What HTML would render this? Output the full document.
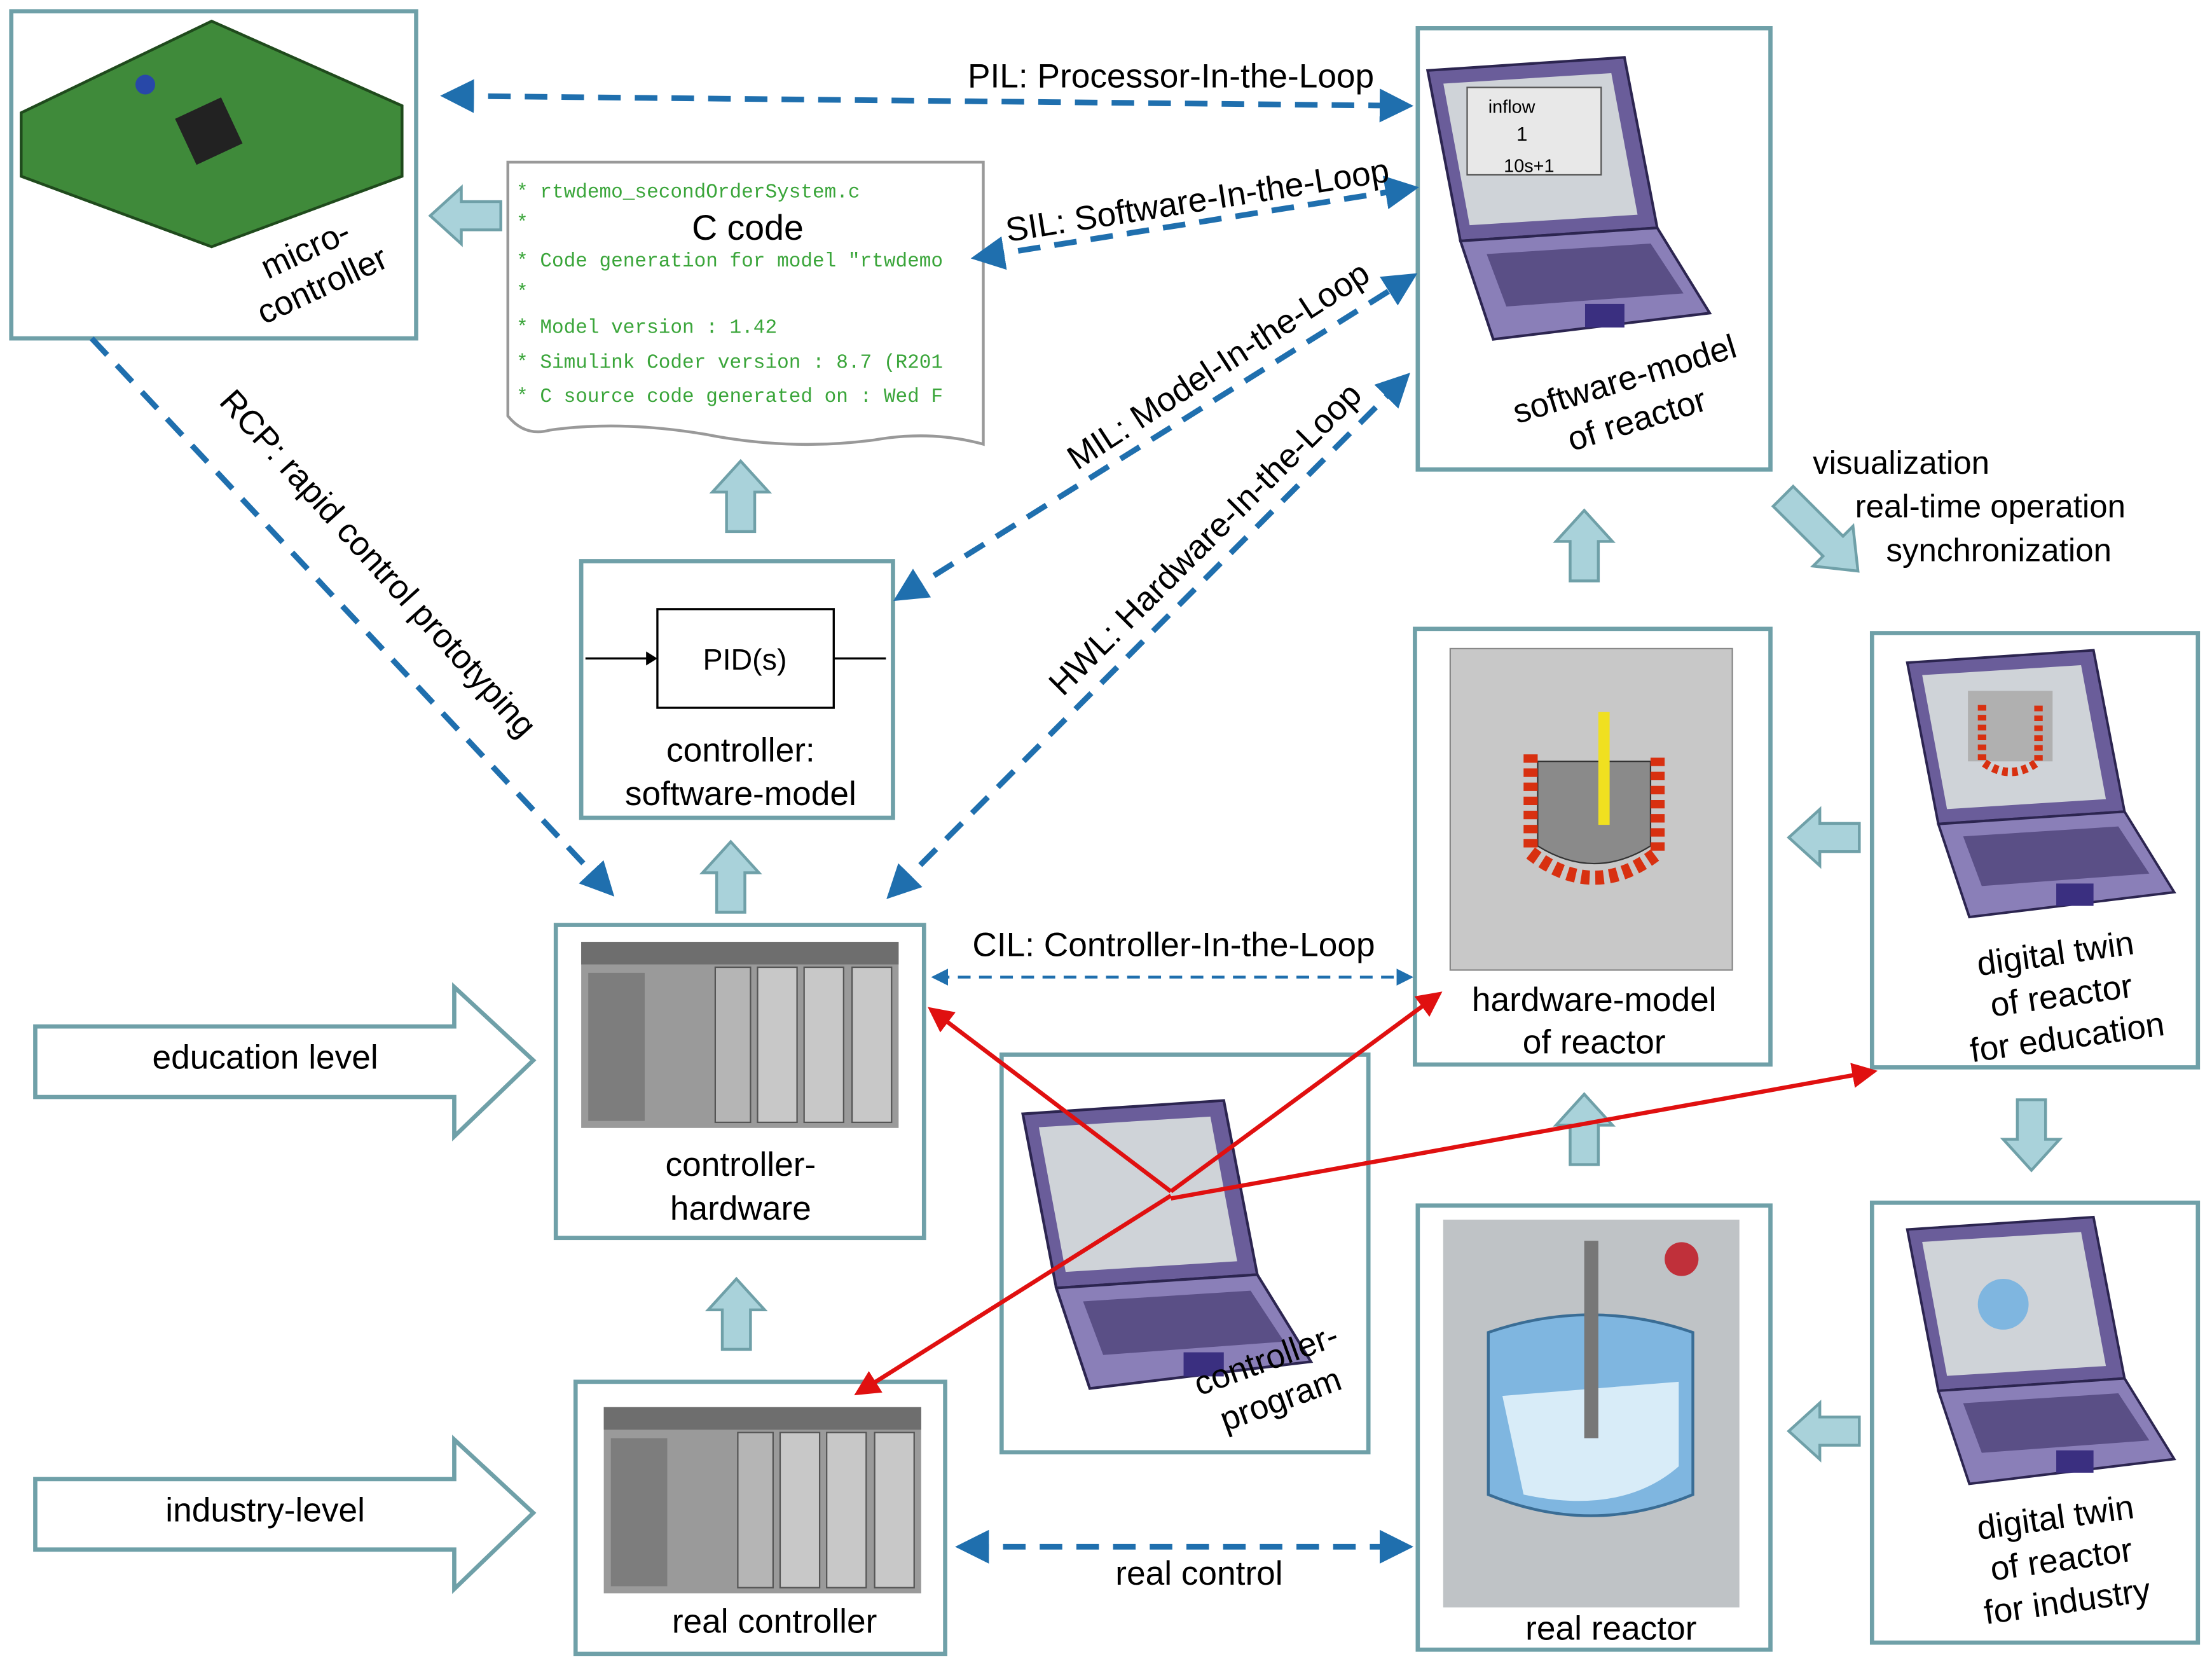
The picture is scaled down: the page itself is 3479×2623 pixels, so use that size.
<!DOCTYPE html>
<html><head><meta charset="utf-8"><style>html,body{margin:0;padding:0;background:#fff}svg{display:block}</style></head><body>
<svg width="3479" height="2623" viewBox="0 0 1568 1183" preserveAspectRatio="none" xmlns="http://www.w3.org/2000/svg" font-family="Liberation Sans, sans-serif">
<defs>
<marker id="bh" markerWidth="6" markerHeight="6" refX="4" refY="3" orient="auto-start-reverse" markerUnits="strokeWidth"><path d="M0,0 L6,3 L0,6 z" fill="#1f6fae"/></marker>
<marker id="rh" markerWidth="6" markerHeight="6" refX="5" refY="3" orient="auto" markerUnits="strokeWidth"><path d="M0,0 L6,3 L0,6 z" fill="#e01010"/></marker>
<g id="lap">
<path d="M0,0 L150,-10 L175,120 L25,130 z" fill="#6a5d9a" stroke="#2c2550" stroke-width="2"/>
<path d="M12,10 L140,2 L160,110 L32,118 z" fill="#cfd3d8"/>
<path d="M25,130 L175,120 L215,185 L50,205 z" fill="#8a7fb8" stroke="#2c2550" stroke-width="2"/>
<path d="M45,140 L170,132 L195,170 L60,180 z" fill="#5a4f86"/>
<rect x="120" y="178" width="30" height="18" fill="#3a2f80"/>
</g>
<g id="plc">
<rect x="0" y="0" width="225" height="132" fill="#9a9a9a"/>
<rect x="0" y="0" width="225" height="16" fill="#6e6e6e"/>
<rect x="5" y="22" width="40" height="105" fill="#7d7d7d"/>
<rect x="125" y="18" width="28" height="110" fill="#c8c8c8" stroke="#555"/>
<rect x="158" y="18" width="28" height="110" fill="#c8c8c8" stroke="#555"/>
<rect x="192" y="18" width="28" height="110" fill="#c8c8c8" stroke="#555"/>
<rect x="95" y="18" width="25" height="110" fill="#b5b5b5" stroke="#555"/>
</g>
</defs>
<g fill="none" stroke="#6fa0a8" stroke-width="3">
<rect x="8" y="8" width="287" height="232"/>
<rect x="1005" y="20" width="250" height="313"/>
<rect x="412" y="398" width="221" height="182"/>
<rect x="1003" y="446" width="252" height="309"/>
<rect x="1327" y="449" width="231" height="308"/>
<rect x="394" y="656" width="261" height="222"/>
<rect x="710" y="748" width="260" height="282"/>
<rect x="408" y="980" width="262" height="193"/>
<rect x="1005" y="855" width="250" height="315"/>
<rect x="1327" y="853" width="231" height="312"/>
</g>
<!-- C code -->
<path d="M360,115 L697,115 L697,315 Q660,305 620,312 Q560,320 500,308 Q440,298 390,305 Q372,310 360,295 z" fill="#fff" stroke="#999" stroke-width="2"/>
<g font-family="Liberation Mono, monospace" font-size="14" fill="#3aa53a">
<text x="366" y="140">* rtwdemo_secondOrderSystem.c</text>
<text x="366" y="162">*</text>
<text x="366" y="189">* Code generation for model "rtwdemo</text>
<text x="366" y="211">*</text>
<text x="366" y="236">* Model version            : 1.42</text>
<text x="366" y="261">* Simulink Coder version : 8.7 (R201</text>
<text x="366" y="285">* C source code generated on : Wed F</text>
</g>
<text x="530" y="170" font-size="25" text-anchor="middle">C code</text>
<!-- microcontroller image -->
<path d="M15,80 L150,15 L285,75 L285,125 L150,175 L15,125 z" fill="#3f8a3a" stroke="#1f4a1c" stroke-width="2"/>
<rect x="130" y="75" width="36" height="36" fill="#222" transform="rotate(-25 148 93)"/>
<circle cx="103" cy="60" r="7" fill="#2848a8"/>
<text transform="translate(225,195) rotate(-25)" font-size="24" text-anchor="middle"><tspan x="0" y="-12">micro-</tspan><tspan x="0" y="16">controller</tspan></text>
<!-- software-model laptop -->
<use href="#lap" transform="translate(1012,50) scale(0.93)"/>
<rect x="1040" y="62" width="95" height="62" fill="#e8e8e8" stroke="#555"/>
<text x="1055" y="80" font-size="13">inflow</text>
<text x="1075" y="100" font-size="14">1</text><text x="1066" y="122" font-size="13">10s+1</text>
<text transform="translate(1158,290) rotate(-17)" font-size="24" text-anchor="middle"><tspan x="0" y="-14">software-model</tspan><tspan x="0" y="16">of reactor</tspan></text>
<!-- PID -->
<line x1="415" y1="467" x2="462" y2="467" stroke="#000" stroke-width="1.5"/>
<path d="M458,462 L466,467 L458,472 z" fill="#000"/>
<rect x="466" y="432" width="125" height="70" fill="#fff" stroke="#000" stroke-width="1.5"/>
<line x1="591" y1="467" x2="628" y2="467" stroke="#000" stroke-width="1.5"/>
<text x="528" y="475" font-size="21" text-anchor="middle">PID(s)</text>
<text x="525" y="540" font-size="24" text-anchor="middle">controller:</text>
<text x="525" y="571" font-size="24" text-anchor="middle">software-model</text>
<!-- hardware-model image -->
<rect x="1028" y="460" width="200" height="228" fill="#c8c8c8" stroke="#888"/>
<path d="M1090,540 L1170,540 L1170,600 Q1130,625 1090,600 z" fill="#8a8a8a" stroke="#333"/>
<path d="M1085,535 L1085,605 Q1130,640 1175,605 L1175,535" fill="none" stroke="#d83010" stroke-width="10" stroke-dasharray="6 4"/>
<rect x="1133" y="505" width="8" height="80" fill="#f0e020"/>
<text x="1130" y="717" font-size="24" text-anchor="middle">hardware-model</text>
<text x="1130" y="747" font-size="24" text-anchor="middle">of reactor</text>
<!-- digital twin education -->
<use href="#lap" transform="translate(1352,470) scale(0.88)"/>
<rect x="1395" y="490" width="60" height="50" fill="#b0b0b0"/>
<path d="M1405,500 L1405,540 Q1425,555 1445,540 L1445,500" fill="none" stroke="#d83010" stroke-width="6" stroke-dasharray="4 3"/>
<text transform="translate(1462,712) rotate(-8)" font-size="24" text-anchor="middle"><tspan x="0" y="-28">digital twin</tspan><tspan x="0" y="2">of reactor</tspan><tspan x="0" y="32">for education</tspan></text>
<!-- controller hardware -->
<use href="#plc" transform="translate(412,668)"/>
<text x="525" y="834" font-size="24" text-anchor="middle">controller-</text>
<text x="525" y="865" font-size="24" text-anchor="middle">hardware</text>
<!-- controller program -->
<use href="#lap" transform="translate(725,790) scale(0.95)"/>
<text transform="translate(905,985) rotate(-20)" font-size="24" text-anchor="middle"><tspan x="0" y="-14">controller-</tspan><tspan x="0" y="16">program</tspan></text>
<!-- real controller -->
<use href="#plc" transform="translate(428,998)"/>
<text x="549" y="1158" font-size="24" text-anchor="middle">real controller</text>
<!-- real reactor -->
<rect x="1023" y="865" width="210" height="275" fill="#bfc3c6"/>
<path d="M1055,945 Q1128,920 1200,945 L1200,1060 Q1128,1090 1055,1060 z" fill="#7fb6e0" stroke="#3a6d95" stroke-width="2"/>
<path d="M1065,990 L1190,980 L1190,1040 Q1150,1075 1080,1060 z" fill="#d8ecf8"/>
<rect x="1123" y="880" width="10" height="140" fill="#777"/>
<circle cx="1192" cy="893" r="12" fill="#c0303a"/>
<text x="1142" y="1163" font-size="24" text-anchor="middle">real reactor</text>
<!-- digital twin industry -->
<use href="#lap" transform="translate(1352,872) scale(0.88)"/>
<circle cx="1420" cy="925" r="18" fill="#7fb6e0"/>
<text transform="translate(1462,1112) rotate(-8)" font-size="24" text-anchor="middle"><tspan x="0" y="-28">digital twin</tspan><tspan x="0" y="2">of reactor</tspan><tspan x="0" y="32">for industry</tspan></text>
<!-- level arrows -->
<g fill="#fff" stroke="#6fa0a8" stroke-width="3">
<path d="M25,728 L322,728 L322,700 L378,752 L322,806 L322,778 L25,778 z"/>
<path d="M25,1049 L322,1049 L322,1021 L378,1073 L322,1127 L322,1099 L25,1099 z"/>
</g>
<text x="188" y="758" font-size="24" text-anchor="middle">education level</text>
<text x="188" y="1079" font-size="24" text-anchor="middle">industry-level</text>
<!-- block arrows -->
<g fill="#a9d2da" stroke="#6fa0a8" stroke-width="2">
<path d="M-10,0 L-10,-28 L-20,-28 L0,-50 L20,-28 L10,-28 L10,0 z" transform="translate(525,377)"/>
<path d="M-10,0 L-10,-28 L-20,-28 L0,-50 L20,-28 L10,-28 L10,0 z" transform="translate(518,647)"/>
<path d="M-10,0 L-10,-28 L-20,-28 L0,-50 L20,-28 L10,-28 L10,0 z" transform="translate(522,957)"/>
<path d="M-10,0 L-10,-28 L-20,-28 L0,-50 L20,-28 L10,-28 L10,0 z" transform="translate(1123,412)"/>
<path d="M-10,0 L-10,-28 L-20,-28 L0,-50 L20,-28 L10,-28 L10,0 z" transform="translate(1123,826)"/>
<path d="M-10,0 L-10,-28 L-20,-28 L0,-50 L20,-28 L10,-28 L10,0 z" transform="translate(355,153) rotate(-90)"/>
<path d="M-10,0 L-10,-28 L-20,-28 L0,-50 L20,-28 L10,-28 L10,0 z" transform="translate(1318,594) rotate(-90)"/>
<path d="M-10,0 L-10,-28 L-20,-28 L0,-50 L20,-28 L10,-28 L10,0 z" transform="translate(1318,1015) rotate(-90)"/>
<path d="M-10,0 L-10,-28 L-20,-28 L0,-50 L20,-28 L10,-28 L10,0 z" transform="translate(1440,780) rotate(180)"/>
<path d="M-10,0 L-10,-50 L-20,-50 L0,-75 L20,-50 L10,-50 L10,0 z" transform="translate(1264,352) rotate(135)"/>
</g>
<text x="1285" y="336" font-size="23">visualization</text>
<text x="1315" y="367" font-size="23">real-time operation</text>
<text x="1337" y="398" font-size="23">synchronization</text>
<!-- dashed blue -->
<g stroke="#1f6fae" stroke-width="4" stroke-dasharray="16 10" fill="none">
<line x1="320" y1="68" x2="994" y2="75" marker-start="url(#bh)" marker-end="url(#bh)"/>
<line x1="696" y1="182" x2="998" y2="134" marker-start="url(#bh)" marker-end="url(#bh)"/>
<line x1="640" y1="422" x2="998" y2="198" marker-start="url(#bh)" marker-end="url(#bh)"/>
<line x1="634" y1="632" x2="994" y2="270" marker-start="url(#bh)" marker-end="url(#bh)"/>
<line x1="65" y1="240" x2="430" y2="630" marker-end="url(#bh)"/>
<line x1="685" y1="1097" x2="994" y2="1097" marker-start="url(#bh)" marker-end="url(#bh)"/>
</g>
<line x1="664" y1="693" x2="998" y2="693" stroke="#1f6fae" stroke-width="2" stroke-dasharray="9 6" marker-start="url(#bh)" marker-end="url(#bh)"/>
<text x="830" y="62" font-size="24" text-anchor="middle">PIL: Processor-In-the-Loop</text>
<text transform="translate(850,150) rotate(-9)" font-size="24" text-anchor="middle">SIL: Software-In-the-Loop</text>
<text transform="translate(868,266) rotate(-33)" font-size="24" text-anchor="middle">MIL: Model-In-the-Loop</text>
<text transform="translate(860,388) rotate(-45)" font-size="24" text-anchor="middle">HWL: Hardware-In-the-Loop</text>
<text transform="translate(262,405) rotate(48)" font-size="24" text-anchor="middle">RCP: rapid control prototyping</text>
<text x="832" y="678" font-size="24" text-anchor="middle">CIL: Controller-In-the-Loop</text>
<text x="850" y="1124" font-size="24" text-anchor="middle">real control</text>
<!-- red lines -->
<g stroke="#e01010" stroke-width="3" fill="none">
<line x1="830" y1="845" x2="660" y2="716" marker-end="url(#rh)"/>
<line x1="830" y1="845" x2="1020" y2="705" marker-end="url(#rh)"/>
<line x1="830" y1="850" x2="1328" y2="760" marker-end="url(#rh)"/>
<line x1="830" y1="848" x2="608" y2="988" marker-end="url(#rh)"/>
</g>
</svg>
</body></html>
